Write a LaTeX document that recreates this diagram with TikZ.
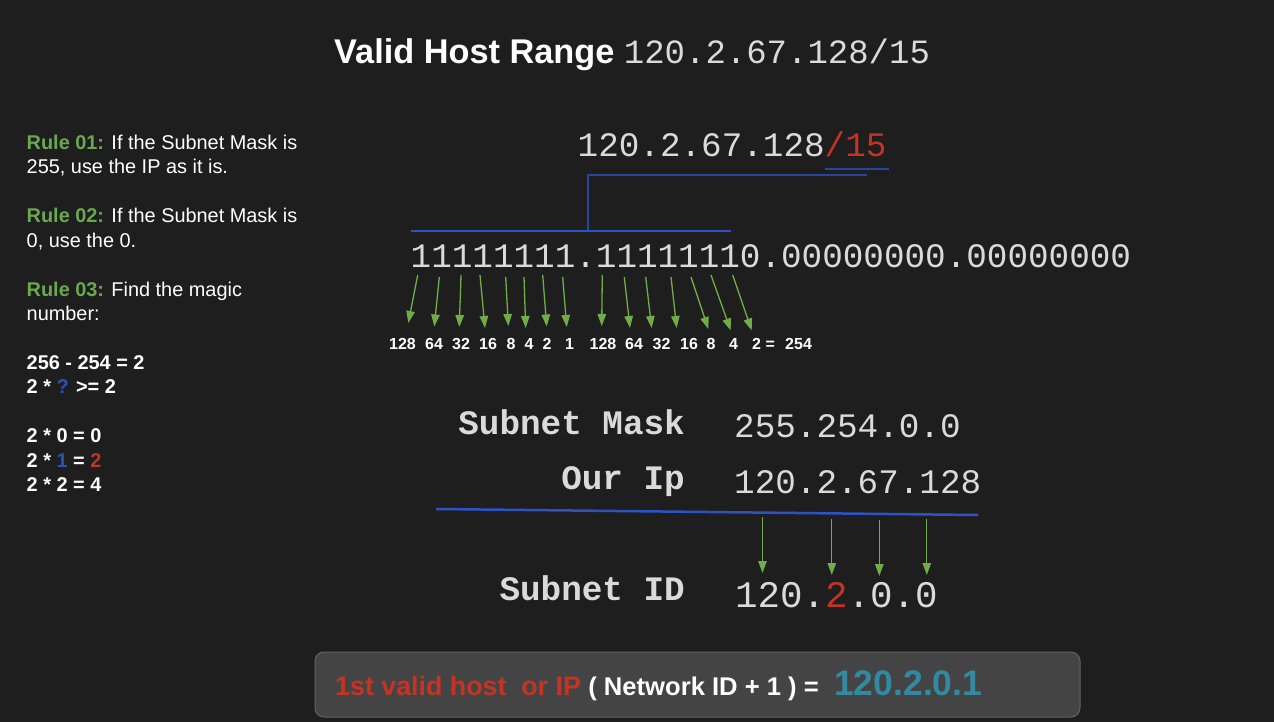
\documentclass[tikz,border=0pt]{standalone}
\usepackage{fontspec}
\usepackage{xcolor}
\usepackage{tikz}
\usetikzlibrary{arrows.meta}
\setmainfont{Liberation Sans}
\newfontfamily\ipfont{Liberation Mono}
\definecolor{bg}{RGB}{30, 30, 30}
\definecolor{iplight}{RGB}{218, 218, 218}
\definecolor{red}{RGB}{196, 52, 36}
\definecolor{lineblue}{RGB}{45, 82, 196}
\definecolor{darkblue}{RGB}{38, 68, 160}
\definecolor{arrowgreen}{RGB}{112, 173, 71}
\definecolor{rulegreen}{RGB}{106, 168, 79}
\definecolor{askblue}{RGB}{42, 82, 184}
\definecolor{teal}{RGB}{50, 138, 160}
\definecolor{boxfill}{RGB}{68, 68, 68}
\definecolor{boxline}{RGB}{98, 98, 98}
\newcommand{\rulehead}[1]{\textcolor{rulegreen}{\bfseries #1}}

\begin{document}
\begin{tikzpicture}[x=1pt, y=-1pt,
    iptext/.style={inner sep=0pt, anchor=base west, text=iplight,
      font=\ipfont\fontsize{34.3}{40}\selectfont},
    iplabel/.style={inner sep=0pt, anchor=base east, text=iplight,
      font=\ipfont\bfseries\fontsize{34.3}{40}\selectfont},
    bitarrow/.style={draw=arrowgreen, line width=1.3pt,
      -{Triangle[width=8.5pt, length=12pt]}},
    bluerule/.style={line width=2.5pt},
    rulestext/.style={inner sep=0pt, anchor=base west, text=white,
      font=\fontsize{19.9}{24}\selectfont},
    weight/.style={inner sep=0pt, anchor=base, text=white,
      font=\bfseries\fontsize{16}{18}\selectfont}]
  % background and page size
  \fill[bg] (0,0) rectangle (1274,722);
  \useasboundingbox (0,0) rectangle (1274,722);

  % Title
  \node[inner sep=0pt, anchor=base west, text=white] (title) at (334,64)
    {\fontsize{34.3}{38}\selectfont\bfseries Valid Host Range
     {\ipfont\mdseries\fontsize{34}{38}\selectfont\color{iplight}120.2.67.128/15}};

  % Rules on the left
  \foreach \k/\line in {
      1/{\rulehead{Rule 01:} If the Subnet Mask is},
      2/{255, use the IP as it is.},
      4/{\rulehead{Rule 02:} If the Subnet Mask is},
      5/{0, use the 0.},
      7/{\rulehead{Rule 03:} Find the magic},
      8/{number:},
      10/{\bfseries 256 - 254 = 2},
      11/{\bfseries 2 * \textcolor{askblue}{?} >= 2},
      13/{\bfseries 2 * 0 = 0},
      14/{\bfseries 2 * \textcolor{askblue}{1} = \textcolor{red}{2}},
      15/{\bfseries 2 * 2 = 4}} {
    \node[rulestext] (rule\k) at (26.5,{149.3+24.46*(\k-1)}) {\line};
  }

  % IP with prefix and the bracket down to the mask bits
  \node[iptext] (cidr) at (577.5,157) {120.2.67.128\textcolor{red}{/15}};
  \coordinate (prefixL) at (825,169);
  \coordinate (prefixR) at (889,169);
  \draw[bluerule, draw=darkblue] (prefixL) -- (prefixR);
  \coordinate (brTop) at (867,175);
  \coordinate (brElbow) at (588,175);
  \coordinate (brFoot) at (588,231);
  \draw[bluerule, draw=darkblue, line width=2pt] (brTop) -- (brElbow) -- (brFoot);
  \coordinate (bitsL) at (411,231);
  \coordinate (bitsR) at (731,231);
  \draw[bluerule, draw=lineblue] (bitsL) -- (bitsR);

  % Mask in binary
  \node[iptext] (bits) at (410.5,267) {11111111.11111110.00000000.00000000};

  % arrows from each set bit to its weight
  \foreach \sx/\sy/\ex/\ey [count=\i] in {
      417.7/275/408.3/323, 439.3/277/434.3/326.5, 461/275/459.3/327,
      480/275/485/328, 505.7/277/508.3/326, 524/277/525.7/328,
      542.7/275/546.7/326.5, 562.7/277/566.7/327, 602.3/275/601.7/326,
      624.3/277/630/328, 645.7/277/651.7/328, 671/277/676.7/328,
      691/277/708.3/329, 711/275/730.7/330.5, 732.7/275/751.7/330.5} {
    \coordinate (bit\i) at (\sx,\sy);
    \coordinate (tip\i) at (\ex,\ey);
    \draw[bitarrow] (bit\i) -- (tip\i);
  }
  % bit weights
  \foreach \v/\x [count=\i] in {128/402.5, 64/434, 32/461, 16/488, 8/511,
      4/529, 2/547, 1/569.5, 128/603, 64/634, 32/661.5, 16/689, 8/711,
      4/733.5} {
    \node[weight] (w\i) at (\x,349) {\v};
  }
  \node[weight, anchor=base west] (w15) at (752,349) {2 =};
  \node[weight, anchor=base west] (sum) at (785,349) {254};

  % Subnet mask AND our ip
  \node[iplabel] (masklabel) at (685,434) {Subnet Mask};
  \node[iptext] (mask) at (734,437) {255.254.0.0};
  \node[iplabel] (iplabel) at (685,489) {Our Ip};
  \node[iptext] (ourip) at (734,493) {120.2.67.128};
  \coordinate (sumL) at (436,509);
  \coordinate (sumR) at (978,515);
  \draw[bluerule, draw=lineblue] (sumL) -- (sumR);

  % arrows down to the subnet id
  \foreach \x/\sy/\ey [count=\i] in {762.5/517/573, 831.8/519/575,
      879.3/520/576, 926.8/519/575} {
    \coordinate (oct\i) at (\x,\sy);
    \coordinate (octtip\i) at (\x,\ey);
    \draw[bitarrow] (oct\i) -- (octtip\i);
  }
  \node[iplabel] (idlabel) at (685,600) {Subnet ID};
  \node[iptext, font=\ipfont\fontsize{37.5}{42}\selectfont] (subnetid) at (735,607)
    {120.\textcolor{red}{2}.0.0};

  % result box
  \node[draw=boxline, fill=boxfill, line width=1pt, rounded corners=9pt,
        minimum width=765pt, minimum height=65pt, inner sep=0pt] (result) at (697.5,684.5) {};
  \node[inner sep=0pt, anchor=base west, text=white] (hostlabel) at (335,695)
    {\bfseries\fontsize{26.8}{30}\selectfont\textcolor{red}{1st valid host\ \ or IP}
     \fontsize{25.6}{30}\selectfont( Network ID + 1 ) =};
  \node[inner sep=0pt, anchor=base west, text=teal] (hostvalue) at (834,695)
    {\fontsize{35.5}{40}\selectfont\bfseries 120.2.0.1};
\end{tikzpicture}
\end{document}
